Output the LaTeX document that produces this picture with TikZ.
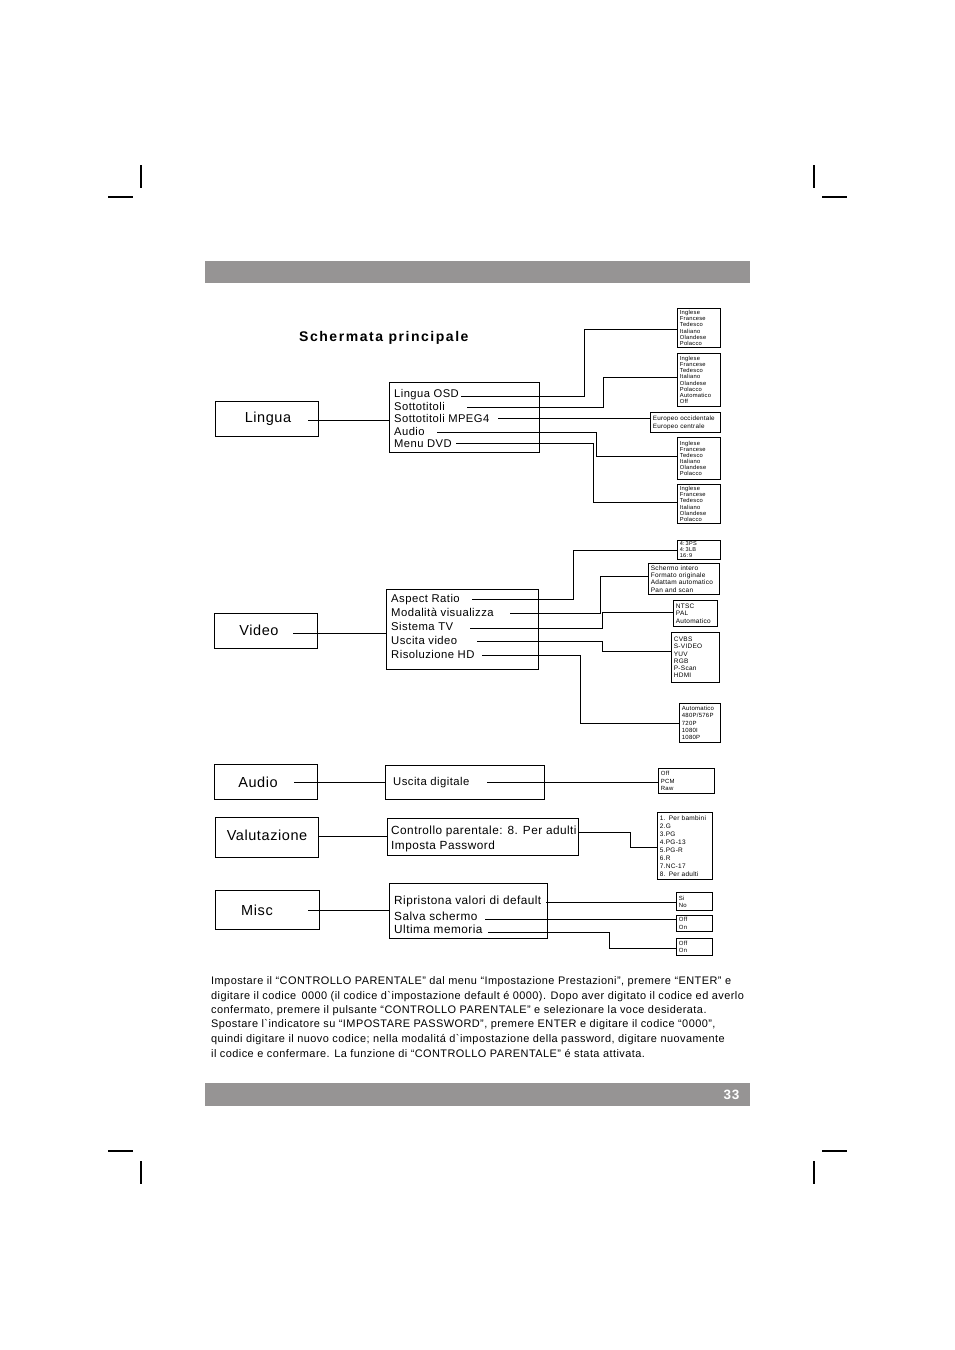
\documentclass[tikz,border=0pt]{standalone}
\usepackage{fontspec}
\newfontfamily\af{Liberation Sans}[LetterSpace=4]
\newfontfamily\titlef{Liberation Sans}[LetterSpace=11]
\definecolor{barg}{HTML}{969494}
\tikzset{
  mainbox/.style={draw, line width=0.9pt, minimum width=103pt, minimum height=35pt, inner sep=0pt},
  maintxt/.style={font=\af\fontsize{14.5}{16}\selectfont, inner sep=0pt},
  menubox/.style={draw, line width=0.9pt, anchor=north west, inner sep=0pt},
  item/.style={font=\af\fontsize{11.2}{13}\selectfont, inner sep=0pt, anchor=base west},
  vitem/.style={item, font=\af\fontsize{11.3}{13}\selectfont},
  bitem/.style={item, font=\af\fontsize{11.8}{13}\selectfont},
  optbox/.style={draw, line width=0.8pt, anchor=north west, align=left, inner xsep=2.5pt, inner ysep=0pt},
  conn/.style={line width=0.8pt},
  ptxt/.style={font=\af\fontsize{10.95}{12}\selectfont, inner sep=0pt, anchor=west},
  crop/.style={line width=1.6pt}
}
\newcommand{\ob}[7]{% name, x, y, w, h, size, skip
  \node[optbox, font=\af\fontsize{#6}{#7}\selectfont, minimum width=#4pt, minimum height=#5pt, text width=#4pt-5pt] (#1) at (#2,#3)}
\begin{document}
\begin{tikzpicture}[x=1pt,y=-1pt]
\useasboundingbox (0,0) rectangle (954,1350);
% crop marks
\draw[crop] (141,165) -- (141,188);
\draw[crop] (108,197) -- (133,197);
\draw[crop] (814,165) -- (814,188);
\draw[crop] (822,197) -- (847,197);
\draw[crop] (108,1151) -- (133,1151);
\draw[crop] (141,1161) -- (141,1184);
\draw[crop] (822,1151) -- (847,1151);
\draw[crop] (814,1161) -- (814,1184);
% bars
\fill[barg] (205,261) rectangle (750,283);
\fill[barg] (205,1083) rectangle (750,1106);
\node[font=\af\bfseries\fontsize{13.5}{15}\selectfont, text=white, inner sep=0pt] (pnum) at (731.5,1094.5) {33};
% title
\node[font=\titlef\bfseries\fontsize{14}{16}\selectfont, inner sep=0pt, anchor=base west] (title) at (299,341) {Schermata principale};

% ---------- Lingua ----------
\node[mainbox] (lingua) at (266.5,418.5) {};
\node[maintxt] (linguaT) at (268,419) {Lingua};
\node[menubox, minimum width=150pt, minimum height=70pt] (mling) at (389,382) {};
\node[item] (l1) at (394,397) {Lingua OSD};
\node[item] (l2) at (394,410) {Sottotitoli};
\node[item] (l3) at (394,422) {Sottotitoli MPEG4};
\node[item] (l4) at (394,435) {Audio};
\node[item] (l5) at (394,447) {Menu DVD};
\ob{b1}{677}{308}{43}{39}{5.8}{6.1}{Inglese\\Francese\\Tedesco\\Italiano\\Olandese\\Polacco};
\ob{b2}{677}{353}{43}{53}{5.8}{6.1}{Inglese\\Francese\\Tedesco\\Italiano\\Olandese\\Polacco\\Automatico\\Off};
\ob{b3}{650}{412}{70}{20}{6.3}{8}{Europeo occidentale\\Europeo centrale};
\ob{b4}{677}{437}{43}{42}{5.8}{6.1}{Inglese\\Francese\\Tedesco\\Italiano\\Olandese\\Polacco};
\ob{b5}{677}{484}{43}{39}{5.8}{6.1}{Inglese\\Francese\\Tedesco\\Italiano\\Olandese\\Polacco};
\coordinate (ls0) at (308,420);
\draw[conn] (ls0) -- (ls0 -| mling.west);
\coordinate (ls1) at (461,396.5); \coordinate (lk1) at (584,396.5);
\draw[conn] (ls1) -- (lk1) |- ([yshift=-1.5pt]b1.west);
\coordinate (ls2) at (467,407); \coordinate (lk2) at (603,407);
\draw[conn] (ls2) -- (lk2) |- ([yshift=3pt]b2.west);
\coordinate (ls3) at (498,418.5);
\draw[conn] (ls3) -- (ls3 -| b3.west);
\coordinate (ls4) at (437,432); \coordinate (lk4) at (596,432);
\draw[conn] (ls4) -- (lk4) |- ([yshift=2pt]b4.west);
\coordinate (ls5) at (456,443.5); \coordinate (lk5) at (593,443.5);
\draw[conn] (ls5) -- (lk5) |- ([yshift=1.5pt]b5.west);

% ---------- Video ----------
\node[mainbox] (video) at (265.5,630.5) {};
\node[maintxt] (videoT) at (259,630) {Video};
\node[menubox, minimum width=152pt, minimum height=80pt] (mvid) at (386,589) {};
\node[vitem] (v1) at (391,602.5) {Aspect Ratio};
\node[vitem] (v2) at (391,616.5) {Modalità visualizza};
\node[vitem] (v3) at (391,630.5) {Sistema TV};
\node[vitem] (v4) at (391,644.5) {Uscita  video};
\node[vitem] (v5) at (391,658.5) {Risoluzione  HD};
\ob{w1}{677}{540}{43}{19}{5.6}{5.9}{4:\,3PS\\4:\,3LB\\16:\,9};
\ob{w2}{648}{563}{71}{31}{6.5}{7.3}{Schermo intero\\Formato originale\\Adattam automatico\\Pan and scan};
\ob{w3}{673}{600}{44}{26}{6.5}{7.5}{NTSC\\PAL\\Automatico};
\ob{w4}{671}{632}{48}{50}{6.5}{7.3}{CVBS\\S-VIDEO\\YUV\\RGB\\P-Scan\\HDMI};
\ob{w5}{679}{703}{41}{39}{6}{7.3}{Automatico\\480P/576P\\720P\\1080I\\1080P};
\coordinate (vs0) at (293,633);
\draw[conn] (vs0) -- (vs0 -| mvid.west);
\coordinate (vs1) at (472,599); \coordinate (vk1) at (573,599);
\draw[conn] (vs1) -- (vk1) |- (w1.west);
\coordinate (vs2) at (510,613.5); \coordinate (vk2) at (600,613.5);
\draw[conn] (vs2) -- (vk2) |- ([yshift=2.5pt]w2.west);
\coordinate (vs3) at (470,628); \coordinate (vk3) at (602,628);
\draw[conn] (vs3) -- (vk3) |- ([yshift=1pt]w3.west);
\coordinate (vs4) at (477,641.5); \coordinate (vk4) at (602,641.5);
\draw[conn] (vs4) -- (vk4) |- ([yshift=6pt]w4.west);
\coordinate (vs5) at (482,655); \coordinate (vk5) at (580,655);
\draw[conn] (vs5) -- (vk5) |- (w5.west);

% ---------- Audio ----------
\node[mainbox] (audio) at (265.5,781.5) {};
\node[maintxt] (audioT) at (258,782) {Audio};
\node[menubox, minimum width=159pt, minimum height=34pt] (maud) at (385,765) {};
\node[item, font=\af\fontsize{11.3}{13}\selectfont] (a1) at (393,785.5) {Uscita digitale};
\ob{c1}{658}{768}{56}{25}{6}{7.5}{Off\\PCM\\Raw};
\coordinate (as0) at (294,782);
\draw[conn] (as0) -- (as0 -| maud.west);
\coordinate (as1) at (487,782);
\draw[conn] (as1) -- (as1 -| c1.west);

% ---------- Valutazione ----------
\node[mainbox, minimum height=40pt] (valut) at (266.5,837) {};
\node[maintxt] (valutT) at (267,835) {Valutazione};
\node[menubox, minimum width=191pt, minimum height=37pt] (mval) at (387,818) {};
\node[bitem] (r1) at (391,834) {Controllo  parentale: 8. Per adulti};
\node[bitem] (r2) at (391,849) {Imposta  Password};
\ob{d1}{657}{812}{55}{67}{6.5}{8}{1. Per bambini\\2.G\\3.PG\\4.PG-13\\5.PG-R\\6.R\\7.NC-17\\8. Per adulti};
\coordinate (rs0) at (318,836.5);
\draw[conn] (rs0) -- (rs0 -| mval.west);
\coordinate (rs1) at (578,832); \coordinate (rk1) at (630,832);
\draw[conn] (rs1) -- (rk1) |- ([yshift=-1.5pt]d1.west);

% ---------- Misc ----------
\node[mainbox, minimum width=104pt, minimum height=39pt] (misc) at (267,909.5) {};
\node[maintxt] (miscT) at (257,910) {Misc};
\node[menubox, minimum width=158pt, minimum height=55pt] (mmisc) at (389,883) {};
\node[bitem] (m1) at (394,904.5) {Ripristona valori di default};
\node[bitem] (m2) at (394,920) {Salva  schermo};
\node[bitem] (m3) at (394,933.5) {Ultima  memoria};
\ob{e1}{676}{892}{36}{18}{6}{7}{Si\\No};
\ob{e2}{676}{915}{36}{16}{6}{7.5}{Off\\On};
\ob{e3}{676}{938}{36}{17}{6}{7.5}{Off\\On};
\coordinate (ms0) at (308,910);
\draw[conn] (ms0) -- (ms0 -| mmisc.west);
\coordinate (ms1) at (546,902);
\draw[conn] (ms1) -- (ms1 -| e1.west);
\coordinate (ms2) at (485,919);
\draw[conn] (ms2) -- (ms2 -| e2.west);
\coordinate (ms3) at (488,932); \coordinate (mk3) at (609,932);
\draw[conn] (ms3) -- (mk3) |- ([yshift=-1.5pt]e3.west);

% ---------- paragraph ----------
\node[ptxt] (p1) at (211,982) {Impostare il “CONTROLLO PARENTALE” dal menu “Impostazione Prestazioni”, premere “ENTER” e};
\node[ptxt] (p2) at (211,997) {digitare il codice \,0000 (il codice d`impostazione default é 0000). Dopo aver digitato il codice ed averlo};
\node[ptxt] (p3) at (211,1011) {confermato, premere il pulsante “CONTROLLO PARENTALE” e selezionare la voce desiderata.};
\node[ptxt] (p4) at (211,1025) {Spostare l`indicatore su “IMPOSTARE PASSWORD”, premere ENTER e digitare il codice “0000”,};
\node[ptxt] (p5) at (211,1040) {quindi digitare il nuovo codice; nella modalitá d`impostazione della password, digitare nuovamente};
\node[ptxt] (p6) at (211,1054) {il codice e confermare. La funzione di “CONTROLLO PARENTALE” é stata attivata.};
\end{tikzpicture}
\end{document}
